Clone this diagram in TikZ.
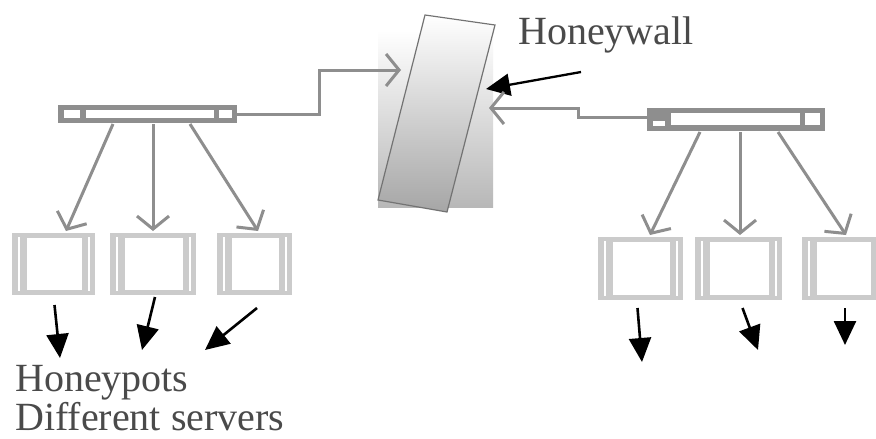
\documentclass[tikz,border=0pt]{standalone}
\usepackage{fontspec}
\setmainfont{Liberation Serif}
\usetikzlibrary{arrows.meta}
\definecolor{lineg}{HTML}{8E8E8E}
\definecolor{boxg}{HTML}{CBCBCB}
\definecolor{txt}{HTML}{4A4A4A}
\begin{document}
\begin{tikzpicture}[x=1pt,y=-1pt,
  gline/.style={draw=lineg,line width=3pt,-{Straight Barb[length=13pt,width=32pt]}},
  barrow/.style={draw=black,line width=2.6pt,-{Triangle[length=24pt,width=22pt]}},
  switchbox/.style={fill=lineg,draw=none,inner sep=0pt,outer sep=0pt,minimum width=#1},
  hpot/.style={fill=boxg,draw=none,inner sep=0pt,outer sep=0pt,minimum height=62pt,minimum width=#1,
    path picture={
      \fill[white] ([xshift=15pt,yshift=-5pt]path picture bounding box.north west) rectangle ([xshift=-13pt,yshift=5pt]path picture bounding box.south east);
      \draw[white,line width=1.6pt] ([xshift=7pt,yshift=-4pt]path picture bounding box.north west) -- ([xshift=7pt,yshift=4pt]path picture bounding box.south west);
      \draw[white,line width=1.6pt] ([xshift=-6pt,yshift=-4pt]path picture bounding box.north east) -- ([xshift=-6pt,yshift=4pt]path picture bounding box.south east);
    }},
  lbl/.style={text=txt,font=\fontsize{40}{42}\selectfont,inner sep=0pt}]
\clip (0,0) rectangle (876,439);
\fill[white] (0,0) rectangle (876,439);

% Honeywall
\shade[top color=white,bottom color=black!28] (378,30) rectangle (493,207);
\shade[draw=black!55,line width=1.2pt,top color=white,bottom color=black!35]
  (425,15) -- (495,25) -- (447,212) -- (378,200) -- cycle;
\coordinate (hwL) at (401,70);
\coordinate (hwR) at (489,108);
\coordinate (hwT) at (486,89);
\node[lbl,anchor=base west] (hwlabel) at (518,45) {Honeywall};
\coordinate (hwtail) at (581,72);
\draw[barrow,line width=2.3pt] (hwtail) -- (hwT);

% Switches
\node[switchbox=179pt,minimum height=18pt] (swL) at (147.5,114) {};
\fill[white] (64,110) rectangle (80,118);
\fill[white] (86,110) rectangle (214,118);
\fill[white] (219,110) rectangle (232,118);
\node[switchbox=178pt,minimum height=23pt] (swR) at (736,119.5) {};
\fill[white] (671,113) rectangle (800,125);
\fill[white] (805,113) rectangle (820,125);
\fill[white] (653,121) rectangle (665,126);

\draw[gline] (swL.east) -- ++(82,0) |- (hwL);
\draw[gline] ([yshift=2pt]swR.west) -- ++(-69,0) |- (hwR);

% Honeypots left
\node[hpot=83pt] (b1) at (53.5,264) {};
\node[hpot=86pt] (b2) at (153,264) {};
\node[hpot=75pt] (b3) at (254.5,264) {};
% right
\node[hpot=85pt,minimum height=63pt] (r1) at (640.5,268.5) {};
\node[hpot=87pt,minimum height=63pt] (r2) at (738.5,268.5) {};
\node[hpot=82pt,minimum height=63pt] (r3) at (843,268.5) {};

% gray distribution arrows
\coordinate (sl1) at (113,124); \coordinate (sl2) at (153,124); \coordinate (sl3) at (190,124);
\draw[gline] (sl1) -- (66,231);
\draw[gline] (sl2) -- (153,231);
\draw[gline] (sl3) -- (258,231);
\coordinate (sr1) at (700,132); \coordinate (sr2) at (740,132); \coordinate (sr3) at (778,132);
\draw[gline] (sr1) -- (650,235);
\draw[gline] (sr2) -- (740,235);
\draw[gline] (sr3) -- (846,235);

% black arrows
\coordinate (t1) at (60,358); \coordinate (t2) at (142,350); \coordinate (t3) at (205,350);
\draw[barrow] ([xshift=1pt,yshift=-10pt]b1.south) -- (t1);
\draw[barrow] ([xshift=2pt,yshift=-2pt]b2.south) -- (t2);
\draw[barrow] (257,308) -- (t3);
\coordinate (u1) at (642,362); \coordinate (u2) at (758,350); \coordinate (u3) at (845,345);
\draw[barrow] ([xshift=-3pt,yshift=-8pt]r1.south) -- (u1);
\draw[barrow] ([xshift=4pt,yshift=-8pt]r2.south) -- (u2);
\draw[barrow] (845,308) -- (u3);

% labels
\node[lbl,anchor=base west] (hp) at (15,391) {Honeypots};
\node[lbl,anchor=base west] (ds) at (15,430) {Different servers};
\end{tikzpicture}
\end{document}
